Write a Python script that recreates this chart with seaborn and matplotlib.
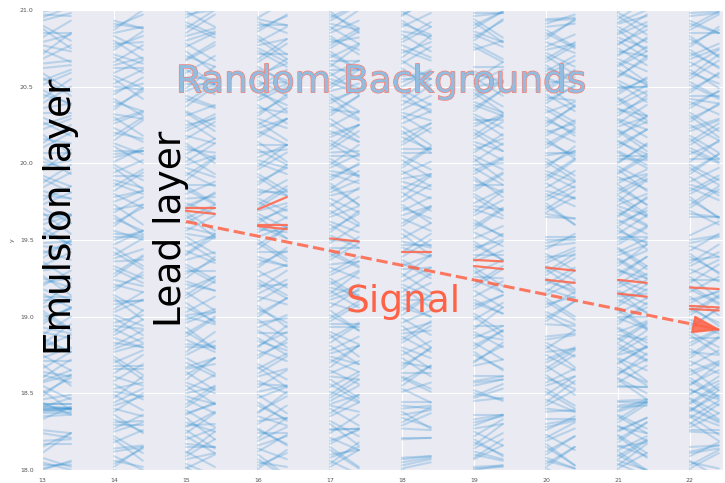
import numpy as np
import pandas as pd
import seaborn as sns
import matplotlib.pyplot as plt
import matplotlib.patheffects as pe

# emulsion layers (left edge of each band)
layers = [13, 14, 15, 16, 17, 18, 19, 20, 21, 22]

# background tracks: left-edge y (hundredths above 18.0) and change across the band
y13 = [1, 3, 8, 15, 17, 24, 35, 37, 38, 39, 40, 40, 41, 42, 43, 44, 46, 50, 55, 58, 62, 66, 71, 75, 80, 84, 88, 93, 97, 102,
       106, 111, 115, 120, 125, 130, 136, 141, 146, 150, 155, 160, 166, 171, 176, 182, 187, 192, 198, 204, 210, 216, 222,
       227, 233, 239, 245, 251, 256, 262, 268, 274, 279, 285, 290, 295, 299]
dy13 = [4, 0, -6, 9, 0, -3, 1, 0, 2, -1, 0, 1, 6, -2, 0, -8, 3, 10, -9, 7, -5, 11, 0, -10, 8, -7, 12, -4, 9, -11, 5, 0, -9,
        10, -6, 3, -12, 8, -2, 11, -8, 6, 0, -10, 9, -5, 12, -7, 4, -11, 10, -3, 7, -9, 0, 11, -6, 8, -12, 2, 9, -8, 5, 0,
        -10, 7, 3]
y13b = [0, 5, 11, 19, 26, 33, 39, 41, 43, 48, 52, 57, 60, 64, 69, 73, 77, 82, 86, 90, 95, 99, 104, 108, 113, 118, 122, 127,
        133, 138, 143, 148, 153, 158, 163, 168, 173, 179, 184, 190, 195, 201, 207, 213, 219, 225, 230, 236, 242, 248, 254,
        259, 265, 271, 277, 282, 288, 293, 297]
dy13b = [6, -5, 13, 1, -2, 8, 1, -1, 0, 14, -13, 5, 12, -3, -14, 7, 2, 13, -9, -4, 11, 6, -12, 14, 0, -7, 3, -13, 9, 12,
         -6, 1, 13, -11, 4, -14, 8, -2, 10, -9, 14, -5, 0, 12, -13, 6, -8, 3, 13, -10, 7, -12, 2, 14, -4, 11, -13, 5, -1]

y14 = [0, 4, 9, 12, 18, 22, 25, 29, 33, 38, 40, 44, 49, 53, 58, 61, 66, 70, 74, 79, 83, 88, 92, 96, 101, 105, 110, 114,
       119, 124, 128, 133, 138, 142, 147, 152, 156, 161, 166, 170, 175, 180, 185, 189, 194, 199, 204, 208, 213, 218, 223,
       228, 232, 237, 242, 247, 252, 257, 262, 266, 271, 276, 280, 285, 289, 293]
dy14 = [-7, 10, -9, 3, 8, -11, 6, 0, -8, 12, -5, 9, -10, 4, 11, -6, 0, 8, -12, 7, -3, 10, -9, 5, -7, 11, 0, -10, 8, -4, 12,
        -8, 6, -11, 9, 0, -6, 10, -12, 3, 7, -9, 11, -5, 8, -10, 4, 0, -7, 12, -9, 6, -3, 10, -11, 5, 9, -8, 0, 11, -6, 7,
        -12, 4, 8, -5]
y14b = [2, 6, 14, 20, 27, 31, 36, 42, 47, 51, 56, 63, 68, 72, 77, 81, 86, 90, 94, 99, 103, 108, 112, 117, 121, 126, 131,
        136, 140, 145, 150, 154, 159, 164, 168, 173, 178, 182, 187, 192, 197, 201, 206, 211, 215, 220, 226, 230, 235, 240,
        245, 250, 255, 259, 264, 269, 274, 278, 283, 287, 291]
dy14b = [13, -4, 2, -14, 9, 1, -12, 6, 14, -3, -10, 12, 0, -13, 5, 10, -6, 14, -2, -11, 8, 3, -14, 12, -5, 13, -9, 1, 11,
         -12, 6, -1, 14, -8, 10, -13, 4, 12, -7, 0, -14, 9, 2, -11, 13, -4, 7, -12, 14, -6, 11, -2, -13, 8, 5, -10, 12, 1,
         -9, 13, -3]

y15 = [1, 4, 9, 12, 15, 20, 26, 28, 31, 36, 39, 41, 46, 50, 52, 57, 62, 64, 67, 73, 75, 80, 85, 87, 90, 96, 100, 103, 106,
       112, 116, 118, 123, 128, 130, 134, 140, 143, 146, 152, 156, 158, 164, 168, 170, 174, 180, 183, 186, 192, 194, 199,
       204, 206, 211, 216, 218, 223, 228, 231, 234, 240, 242, 247, 252, 254, 259, 264, 267, 270, 276, 278, 283, 288, 290,
       295, 299]
dy15 = [9, -8, 11, -10, 0, 7, -12, 10, -6, 8, -11, 12, -9, 4, 10, -7, 11, -12, 6, -10, 9, 0, -8, 12, -11, 7, -5, 10, -9,
        11, -12, 8, -6, 9, 0, -10, 12, -8, 7, -11, 10, -4, 9, -12, 11, -7, 8, -10, 0, 12, -9, 6, -11, 10, -8, 11, -5, 9,
        -12, 7, -10, 12, -6, 8, 0, -9, 11, -12, 10, -7, 9, -11, 5, 12, -8, 10, -10]
y15b = [2, 7, 11, 17, 22, 24, 29, 34, 37, 43, 48, 55, 59, 66, 70, 77, 82, 89, 93, 98, 101, 109, 114, 121, 125, 132, 137,
        141, 149, 154, 161, 166, 172, 177, 185, 189, 197, 201, 209, 213, 221, 225, 233, 237, 244, 249, 256, 261, 268, 273,
        280, 285, 292, 297]
dy15b = [-13, 4, 14, -2, -11, 13, 1, -14, 6, 12, -5, -12, 14, 3, -9, 13, -1, 11, -14, 7, 2, -13, 12, -4, 14, -10, 5, 13,
         -12, -3, 10, -14, 8, 1, -11, 14, -6, 12, -2, -13, 9, 4, -12, 13, -7, 14, -1, -10, 11, -14, 6, 12, -8, 3]

y16 = [0, 3, 7, 12, 14, 19, 24, 27, 30, 35, 38, 42, 47, 49, 54, 58, 61, 66, 69, 73, 78, 81, 86, 89, 93, 98, 102, 105, 110,
       113, 118, 122, 126, 130, 134, 139, 142, 147, 150, 155, 159, 163, 167, 171, 175, 179, 183, 188, 191, 196, 200, 204,
       209, 212, 217, 221, 225, 229, 233, 238, 241, 246, 250, 254, 258, 263, 266, 271, 275, 279, 283, 288, 292, 295]
dy16 = [-10, 8, -12, 11, -7, 9, 0, -11, 12, -6, 10, -9, 7, -12, 11, -8, 5, 10, -10, 12, -7, 9, -11, 0, 8, -12, 10, -9, 11,
        -5, 12, -10, 8, -11, 9, -6, 0, 11, -12, 10, -8, 7, -9, 12, -11, 10, -4, 9, -12, 11, -7, 8, -10, 0, 12, -9, 11, -6,
        10, -12, 9, -8, 11, -10, 7, -11, 12, 0, -9, 10, -12, 8, -7, 11]
y16b = [1, 5, 10, 16, 21, 26, 32, 37, 44, 51, 56, 63, 67, 75, 80, 84, 91, 96, 100, 107, 115, 120, 124, 132, 137, 144, 148,
        152, 157, 161, 165, 169, 173, 177, 181, 186, 193, 198, 202, 207, 214, 219, 223, 227, 231, 236, 243, 248, 252, 256,
        261, 268, 273, 277, 281, 286, 290, 294]
dy16b = [12, -3, -14, 6, 13, -9, 2, 14, -12, 4, -1, 11, -13, 8, 14, -6, -11, 3, 12, -14, 9, 1, -10, 13, -4, 14, -12, 7,
         -2, 11, -14, 5, 12, -8, 0, 13, -11, 14, -5, 2, -13, 10, 6, -12, 14, -3, 9, -14, 1, 12, -7, 13, -10, 4, -13, 11, 0,
         -4]

y17 = [2, 6, 8, 13, 17, 21, 24, 27, 32, 35, 40, 43, 47, 51, 54, 59, 63, 65, 70, 74, 78, 81, 86, 90, 93, 97, 101, 106, 109,
       113, 117, 121, 125, 129, 132, 137, 141, 145, 148, 153, 157, 160, 165, 169, 172, 177, 181, 185, 189, 193, 197, 201,
       205, 209, 213, 217, 221, 224, 229, 233, 237, 241, 245, 249, 253, 257, 261, 265, 269, 273, 277, 281, 285, 289, 293,
       297]
dy17 = [11, -9, 7, -12, 10, -8, 12, 0, -10, 9, -11, 6, 12, -7, 10, -12, 8, -9, 11, -5, 9, -12, 10, -8, 0, 11, -10, 12, -6,
        8, -11, 9, -12, 10, -7, 11, -9, 0, 12, -8, 10, -11, 7, -10, 12, -9, 8, -12, 11, -6, 9, -10, 0, 12, -11, 8, -7, 10,
        -12, 11, -9, 7, -11, 12, -8, 10, 0, -10, 9, -12, 11, -7, 8, -11, 10, -9]
y17b = [0, 4, 10, 15, 19, 26, 30, 37, 42, 45, 49, 56, 61, 67, 72, 76, 83, 88, 95, 99, 104, 111, 115, 119, 123, 127, 134,
        139, 143, 150, 155, 162, 167, 174, 179, 183, 187, 191, 195, 199, 203, 207, 211, 215, 219, 226, 231, 235, 239, 243,
        247, 251, 255, 259, 263, 267, 271, 275, 279, 283, 287, 291, 295, 299]
dy17b = [-12, 14, 3, -13, 7, 1, -14, 12, -4, 10, 13, -11, -2, 14, -8, 5, 12, -14, 0, 11, -13, 6, 14, -5, -12, 9, 2, 13,
         -10, -1, 14, -7, 11, -13, 4, 12, -14, 8, -3, 13, -11, 1, 14, -9, 6, -12, 13, -2, 10, -14, 5, 12, -6, -13, 14, 0,
         -10, 11, 3, -12, 13, -4, 9, -14]

y18 = [0, 3, 7, 8, 20, 27, 29, 34, 36, 40, 42, 51, 53, 58, 61, 63, 68, 73, 75, 80, 85, 87, 91, 96, 99, 104, 109, 111, 116,
       121, 123, 128, 133, 135, 139, 145, 147, 151, 157, 159, 164, 169, 171, 175, 181, 183, 188, 193, 195, 199, 205, 207,
       212, 217, 219, 224, 229, 231, 235, 241, 243, 248, 253, 255, 260, 265, 267, 272, 277, 279, 284, 289, 291, 296, 299]
dy18 = [-5, 4, 2, 1, 1, -1, 8, -6, 3, 2, -2, 6, -9, 10, -8, 0, 11, -12, 9, -7, 12, -10, 5, 8, -11, 10, -9, 0, 12, -8, 9,
        -12, 7, -10, 11, -6, 0, 10, -11, 12, -8, 9, -7, 11, -12, 10, -5, 8, -10, 12, -9, 0, 11, -8, 7, -12, 10, -11, 9, -6,
        12, -10, 8, 0, -9, 11, -12, 7, -8, 10, -11, 9, -7, 12, -10]
y18b = [1, 5, 21, 31, 38, 44, 55, 60, 66, 70, 78, 83, 89, 94, 101, 106, 113, 119, 126, 131, 137, 142, 149, 154, 161, 166,
        173, 178, 185, 190, 197, 202, 209, 214, 221, 226, 233, 238, 245, 250, 257, 262, 269, 274, 281, 286, 293, 297]
dy18b = [4, 3, 0, 10, -11, 0, 13, -9, 14, -3, -12, 11, 2, -14, 13, -6, 9, -13, 14, 1, -10, 12, -4, -14, 11, 6, -12, 14,
         -8, 3, 13, -11, 0, 12, -14, 8, -5, 13, -12, 10, 2, -13, 14, -7, 11, -3, -12, 9]

y19 = [0, 2, 7, 10, 14, 18, 22, 25, 29, 33, 36, 45, 48, 52, 55, 58, 61, 68, 71, 75, 79, 83, 86, 90, 94, 98, 102, 105, 109,
       113, 117, 121, 124, 128, 132, 136, 140, 143, 147, 151, 155, 159, 163, 166, 170, 174, 178, 182, 186, 189, 193, 197,
       201, 205, 209, 212, 216, 220, 224, 228, 232, 236, 240, 244, 248, 252, 256, 260, 263, 274, 278, 282, 286, 290, 294,
       298]
dy19 = [3, 1, 9, -4, 10, -8, 11, -9, 7, 3, 0, 2, 8, -7, 4, 3, 0, 4, 10, -9, 12, -11, 8, -10, 0, 11, -12, 9, -7, 10, -11,
        12, -8, 9, -12, 7, 0, 11, -10, 8, -9, 12, -11, 10, -6, 9, -12, 11, 0, -8, 10, -11, 12, -9, 7, -10, 11, -12, 8, 0,
        -9, 12, -7, 10, -11, 9, -12, -8, 0, 6, -10, 11, -7, 9, -12, 0]
y19b = [1, 8, 12, 16, 20, 27, 31, 47, 50, 57, 70, 77, 81, 88, 92, 100, 107, 111, 119, 126, 130, 138, 145, 149, 157, 161,
        168, 172, 180, 184, 191, 195, 199, 203, 207, 214, 218, 222, 226, 230, 234, 238, 242, 246, 250, 254, 258, 276, 280,
        284, 288, 292, 296]
dy19b = [1, 12, -5, 14, -11, 3, 4, 6, -4, 2, 13, -12, 10, -3, 14, -13, 7, -9, 12, -1, -14, 11, 5, -12, 13, -8, 14, -2,
         -11, 10, -13, 9, 1, -14, 12, -6, 13, -10, 4, -12, 14, -7, 11, -13, 3, 12, -4, -10, 14, -8, 11, -13, 2]

y20 = [1, 4, 8, 12, 15, 19, 23, 26, 30, 33, 38, 42, 46, 49, 53, 57, 60, 64, 68, 72, 75, 79, 83, 87, 95, 99, 103, 106, 110,
       114, 118, 121, 125, 129, 133, 137, 141, 144, 148, 152, 165, 168, 172, 176, 180, 184, 187, 191, 195, 199, 203, 207,
       210, 214, 218, 222, 226, 230, 233, 237, 241, 245, 249, 253, 256, 260, 264, 268, 272, 276, 279, 283, 287, 291, 294]
dy20 = [-9, 11, -7, 10, -12, 8, -10, 9, 3, 0, 1, 10, -8, 12, -11, 9, -7, 11, -12, 8, -10, 12, -9, 2, -1, 11, -8, 10, -12,
        9, -6, 11, -10, 12, -9, 8, -11, 10, 4, 0, -1, 10, -12, 9, -8, 11, -10, 12, -7, 9, -11, 0, 12, -9, 10, -8, 11, -12,
        7, -10, 9, -11, 12, 0, -8, 10, -12, 11, -9, 8, -7, 10, -11, 6, 1]
y20b = [2, 6, 10, 17, 21, 28, 40, 44, 51, 55, 62, 66, 70, 77, 81, 85, 97, 101, 108, 112, 116, 123, 127, 131, 135, 139, 146,
        150, 167, 170, 174, 178, 182, 189, 193, 197, 201, 205, 212, 216, 220, 224, 228, 235, 239, 243, 247, 251, 258, 262,
        266, 270, 274, 281, 285, 289, 293]
dy20b = [13, -5, 12, -14, 10, 4, -2, 14, -11, 6, -13, 12, 9, 2, -14, 3, 13, -10, 5, -12, 14, -6, 11, -13, 8, 1, 2, 0, -3,
         12, -14, 10, -5, 13, -9, 14, -12, 3, 11, -13, 6, 14, -8, -11, 12, -2, 13, -14, 9, -6, 11, -12, 4, 13, -10, 2, 1]

y21 = [1, 4, 7, 10, 13, 16, 20, 23, 26, 29, 33, 36, 39, 42, 45, 54, 57, 60, 63, 67, 70, 73, 76, 80, 83, 86, 90, 93, 97, 100,
       104, 107, 111, 114, 117, 121, 124, 128, 131, 135, 138, 142, 145, 149, 152, 156, 159, 163, 166, 170, 173, 177, 180,
       184, 187, 191, 194, 198, 201, 205, 208, 212, 215, 219, 222, 226, 229, 233, 236, 240, 243, 247, 250, 254, 257, 261,
       264, 268, 271, 275, 278, 282, 285, 289, 292, 296, 299]
dy21 = [10, -8, 12, -11, 9, -7, 11, -12, 8, -10, 12, -9, 7, 2, 1, 0, 11, -10, 9, -12, 10, -8, 11, -9, 12, -11, 7, -10, 9,
        0, -12, 11, -8, 10, -9, 12, -7, 11, -10, 8, -11, 9, -12, 10, 0, -8, 12, -9, 11, -10, 7, -12, 10, -11, 9, -8, 12,
        -10, 11, 0, -9, 10, -12, 8, -11, 12, -7, 9, -10, 11, -12, 8, 0, -9, 11, -10, 12, -8, 10, -11, 9, -7, 12, -10, 8,
        -12, 11]
y21b = [0, 3, 6, 9, 12, 15, 18, 22, 25, 28, 31, 35, 38, 41, 44, 55, 59, 62, 65, 69, 72, 75, 78, 82, 85, 88, 92, 95, 99,
        102, 106, 109, 113, 116, 119, 123, 126, 130, 133, 137, 140, 144, 147, 151, 154, 158, 161, 165, 168, 172, 175, 179,
        182, 186, 189, 193, 196, 200, 203, 207, 210, 214, 217, 221, 224, 228, 231, 235, 238, 242, 245, 249, 252, 256, 259,
        263, 266, 270, 273, 277, 280, 284, 287, 291, 294, 298]
dy21b = [-13, 14, -6, 11, -12, 3, 13, -14, 9, -4, 12, -11, 6, 1, 0, -1, -13, 14, -8, 12, -14, 5, 13, -10, 11, -3, -12, 14,
         -7, 10, -13, 12, 2, -14, 9, -11, 13, -5, 14, -12, 7, -13, 11, -2, 12, -14, 8, 13, -9, -6, 14, -12, 10, -13, 4, 11,
         -14, 13, -1, -10, 12, -8, 14, -13, 6, -11, 13, -4, 9, -14, 11, 1, -12, 14, -7, 10, -13, 12, -3, 13, -11, 8, -14,
         5, 12, -9]

y22 = [0, 3, 6, 9, 12, 15, 25, 28, 31, 34, 36, 39, 41, 44, 47, 50, 53, 56, 60, 64, 68, 71, 75, 79, 83, 86, 90, 94, 98, 101,
       105, 109, 113, 116, 120, 124, 128, 131, 135, 139, 143, 146, 150, 153, 165, 169, 173, 176, 180, 184, 188, 191, 195,
       199, 203, 206, 210, 214, 218, 221, 225, 229, 233, 236, 240, 244, 248, 251, 255, 259, 263, 266, 270, 274, 278, 281,
       285, 289, 293, 296]
dy22 = [-8, 10, -11, 9, 4, 1, -1, 9, -12, 11, -7, 10, -9, 12, -10, 8, -11, 9, -12, 7, 10, -8, 12, -11, 9, 0, -10, 11, -7,
        12, -9, 8, -12, 10, -11, 0, 9, -8, 12, -10, 11, -7, 3, 9, 0, -9, 12, -11, 10, -8, 9, -12, 11, -10, 0, 8, -9, 12,
        -11, 7, -10, 9, -12, 11, -8, 0, 10, -9, 12, -7, 11, -10, 8, -12, 9, -11, 0, 10, -8, 2]
y22b = [1, 5, 11, 26, 30, 35, 38, 40, 43, 46, 49, 52, 55, 58, 62, 66, 73, 77, 81, 88, 92, 96, 103, 107, 111, 118, 122, 126,
        133, 137, 141, 148, 167, 171, 178, 182, 186, 193, 197, 201, 208, 212, 216, 223, 227, 231, 238, 242, 246, 253, 257,
        261, 268, 272, 276, 283, 287, 291, 298]
dy22b = [10, -4, 3, 0, 13, -12, 14, -9, 11, -13, 12, -6, 14, -11, 8, -14, 13, -2, 10, -12, 14, -7, 11, -13, 5, -10, 12,
         -14, 9, 2, -13, 4, -2, 12, -14, 10, -5, 13, -11, 14, -8, 11, -13, 6, 12, -14, 9, -3, 13, -10, 14, -12, 7, -9, 13,
         -14, 10, -6, 1]

bg_y = [y13 + y13b, y14 + y14b, y15 + y15b, y16 + y16b, y17 + y17b,
        y18 + y18b, y19 + y19b, y20 + y20b, y21 + y21b, y22 + y22b]
bg_dy = [dy13 + dy13b, dy14 + dy14b, dy15 + dy15b, dy16 + dy16b, dy17 + dy17b,
         dy18 + dy18b, dy19 + dy19b, dy20 + dy20b, dy21 + dy21b, dy22 + dy22b]

# signal hits in each layer (left y, right y)
sig_layer = [15, 15, 16, 16, 16, 17, 18, 19, 19, 20, 20, 21, 21, 22, 22, 22]
sig_left = [19.71, 19.69, 19.70, 19.60, 19.59, 19.51, 19.42, 19.37, 19.33, 19.32, 19.24, 19.24, 19.15, 19.19, 19.07, 19.05]
sig_right = [19.71, 19.67, 19.78, 19.60, 19.57, 19.49, 19.42, 19.36, 19.31, 19.30, 19.22, 19.22, 19.13, 19.18, 19.06, 19.04]

track_start = (15.0, 19.62)
track_end = (22.44, 18.912)

width = 0.4

rows = []
for layer, ys, dys in zip(layers, bg_y, bg_dy):
    for k, (y0, d) in enumerate(zip(ys, dys)):
        rows.append((f'{layer}-{k}', layer, 18 + y0 / 100))
        rows.append((f'{layer}-{k}', layer + width, 18 + (y0 + d) / 100))
bg = pd.DataFrame(rows, columns=['seg', 'x', 'y'])

rows = []
for k, (layer, a, b) in enumerate(zip(sig_layer, sig_left, sig_right)):
    rows.append((k, layer, a))
    rows.append((k, layer + width, b))
sig = pd.DataFrame(rows, columns=['seg', 'x', 'y'])

sns.set_style('darkgrid')
plt.rcParams['font.family'] = ['DejaVu Sans']

fig = plt.figure(figsize=(7.25, 4.83), dpi=100)
ax = fig.add_axes([0.058, 0.027, 0.9393, 0.9524])

sns.lineplot(data=bg, x='x', y='y', units='seg', estimator=None, sort=False,
             color='#3592d2', alpha=0.27, lw=1.5, legend=False, ax=ax)
sns.lineplot(data=sig, x='x', y='y', units='seg', estimator=None, sort=False,
             color='tomato', alpha=0.85, lw=1.6, legend=False, ax=ax, zorder=3)

# dashed track with a solid head
x0, y0 = track_start
x1, y1 = track_end
t = 0.955
xh, yh = x0 + t * (x1 - x0), y0 + t * (y1 - y0)
ax.plot([x0, xh], [y0, yh], ls='--', lw=2.2, color='tomato', alpha=0.85, zorder=4)
ax.annotate('', xy=track_end, xytext=(xh, yh),
            arrowprops=dict(arrowstyle='-|>,head_length=0.9,head_width=0.28',
                            lw=1.5, color='tomato', alpha=0.85, mutation_scale=20,
                            shrinkA=0, shrinkB=0), zorder=4)

ax.text(13.40, 18.75, 'Emulsion layer', rotation=90, rotation_mode='anchor',
        ha='left', va='baseline', fontsize=27, color='black', zorder=5)
ax.text(14.93, 18.93, 'Lead layer', rotation=90, rotation_mode='anchor',
        ha='left', va='baseline', fontsize=27, color='black', zorder=5)
ax.text(14.86, 20.463, 'Random Backgrounds', fontsize=27, color='#93bde0', zorder=5,
        path_effects=[pe.withStroke(linewidth=1.0, foreground='salmon')])
ax.text(17.21, 19.032, 'Signal', fontsize=27, color='tomato', zorder=5)

ax.set_xlim(13, 22.46)
ax.set_ylim(18, 21)
ax.set_xticks(layers)
ax.set_yticks([18.0, 18.5, 19.0, 19.5, 20.0, 20.5, 21.0])
ax.tick_params(labelsize=4.5, labelcolor='#555555', pad=2.5)
ax.set_xlabel('')
ax.set_ylabel('y', fontsize=4.5, color='#555555')

fig.savefig('out.png', dpi=100)
